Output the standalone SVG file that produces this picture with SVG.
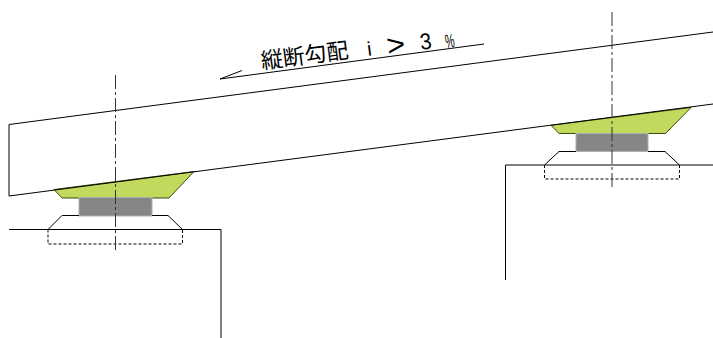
<svg xmlns="http://www.w3.org/2000/svg" width="713" height="338" viewBox="0 0 713 338">
<style>
.l{fill:none;stroke:#000;stroke-width:1}
.d{fill:none;stroke:#000;stroke-width:1;stroke-dasharray:3 2}
.c{fill:none;stroke:#333;stroke-width:1;stroke-dasharray:14 3 3 3}
.g{fill:#c1d95c;stroke:#3f4a10;stroke-width:1}
.b{fill:#868686;stroke:#b0b0b0;stroke-width:1}
.t{font-family:"Noto Sans CJK JP","Liberation Sans",sans-serif;font-size:22px;fill:#000}
.u{font-family:"Liberation Sans",sans-serif;fill:#000}
</style>
<rect width="713" height="338" fill="#fff"/>
<g id="bearing-left">
<path class="g" d="M54 189.500L62 198H169L194 171.500Z"/>
<rect class="b" x="79" y="197.500" width="73" height="18.500"/>
<path class="l" d="M79 215.500H62L48 229.500M152 215.500H168L182.500 229.500"/>
<path class="d" d="M48 229.500V244H182.500V229.500"/>
</g>
<g id="bearing-right">
<path class="g" d="M551 125.300L559 133.500H665.500L691 107.500Z"/>
<rect class="b" x="576" y="133.500" width="72" height="18"/>
<path class="l" d="M576 151.500H559L544.500 165M648 151.500H665L679.500 165"/>
<path class="d" d="M544.500 165V179H679.500V165"/>
</g>
<g id="girder">
<path class="l" d="M713 32L9 124.500V196L713 104"/>
</g>
<g id="abutment-left"><path class="l" d="M9 229.500H221V338"/></g>
<g id="abutment-right"><path class="l" d="M713 165H505.500V280"/></g>
<g id="connectors">
<path class="c" d="M115.500 75V252"/>
<path class="c" d="M612 12V188"/>
<path class="l" d="M484 44L220 79L242 70.500"/>
</g>
<g id="label">
<text class="t" transform="translate(262 69) rotate(-7.500)" textLength="88" lengthAdjust="spacingAndGlyphs">縦断勾配</text>
<text class="u" font-size="20" transform="translate(368 56) rotate(-7.500)">i</text>
<text class="u" font-size="30" transform="translate(388 56) rotate(-7.500) scale(1.05 1)">&gt;</text>
<text class="u" font-size="23" transform="translate(421 50) rotate(-7.500) scale(.9 1)">3</text>
<text class="u" font-size="19" transform="translate(446 48) rotate(-7.500) scale(.55 1)">%</text>
</g>
</svg>
